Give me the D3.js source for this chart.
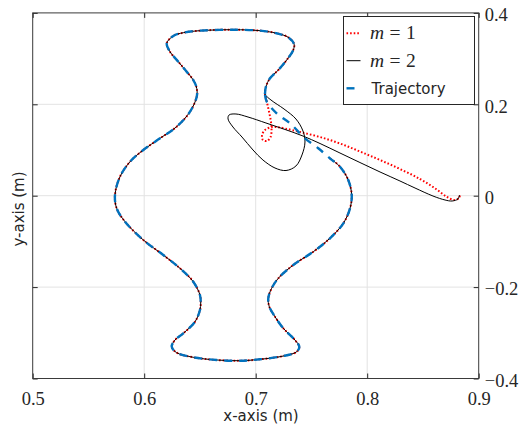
<!DOCTYPE html>
<html lang="en">
<head>
<meta charset="UTF-8">
<title>Trajectory tracking</title>
<script src="https://d3js.org/d3.v7.min.js"></script>
<style>
    body { margin: 0; background: #fff; }
    .grid line { stroke: #e3e3e3; stroke-width: 1; }
    .axis-title { font-family: "DejaVu Sans", sans-serif; font-size: 15px; fill: #262626; }
</style>
</head>
<body>
<svg id="chart" width="523" height="429"></svg>
<script>
    // tick values
    const xTicks = [0.5, 0.6, 0.7, 0.8, 0.9];
    const yTicks = [-0.4, -0.2, 0, 0.2, 0.4];

    // vase shape, from right neck going over the top and round to the right shoulder
    const vaseX = [0.7083, 0.7092, 0.7128, 0.7203, 0.7278, 0.7337, 0.7344, 0.7292, 0.7188, 0.7039,
                   0.6799, 0.6500, 0.6351, 0.6261, 0.6202, 0.6231, 0.6306, 0.6381, 0.6440, 0.6471,
                   0.6471, 0.6411, 0.6291, 0.6142, 0.5992, 0.5873, 0.5783, 0.5738, 0.5753, 0.5828,
                   0.5992, 0.6171, 0.6321, 0.6440, 0.6500, 0.6507, 0.6500, 0.6456, 0.6351, 0.6276,
                   0.6247, 0.6291, 0.6440, 0.6650, 0.6859, 0.7039, 0.7248, 0.7368, 0.7391, 0.7352,
                   0.7248, 0.7173, 0.7122, 0.7113, 0.7143, 0.7203, 0.7337, 0.7517, 0.7666, 0.7786,
                   0.7846, 0.7861, 0.7830, 0.7756, 0.7666];
    const vaseY = [0.2225, 0.2385, 0.2569, 0.2751, 0.2969, 0.3188, 0.3319, 0.3466, 0.3554, 0.3611,
                   0.3632, 0.3611, 0.3567, 0.3495, 0.3335, 0.3151, 0.2932, 0.2713, 0.2532, 0.2350,
                   0.2166, 0.1838, 0.1510, 0.1256, 0.1000, 0.0744, 0.0416, 0.0015, -0.0276, -0.0569,
                   -0.0969, -0.1298, -0.1589, -0.1882, -0.2173, -0.2348, -0.2501, -0.2757, -0.3011, -0.3158,
                   -0.3304, -0.3435, -0.3536, -0.3595, -0.3611, -0.3580, -0.3508, -0.3414, -0.3304, -0.3158,
                   -0.2902, -0.2648, -0.2429, -0.2245, -0.2026, -0.1807, -0.1516, -0.1225, -0.0932, -0.0604,
                   -0.0276, 0.0015, 0.0344, 0.0635, 0.0818];

    // straight piece that closes the reference trajectory
    const closeX = [0.7561, 0.7442, 0.7308, 0.7188, 0.7099, 0.7083];
    const closeY = [0.1037, 0.1256, 0.1584, 0.1803, 0.2057, 0.2225];

    // m = 1 transient, from the start point to the neck
    const m1X = [0.8832, 0.8819, 0.8779, 0.8716, 0.8617, 0.8474, 0.8294, 0.8115, 0.7935, 0.7756,
                 0.7577, 0.7397, 0.7263, 0.7182, 0.7128, 0.7083, 0.7057, 0.7065, 0.7101, 0.7133,
                 0.7142, 0.7137, 0.7124, 0.7106, 0.7092];
    const m1Y = [0.0004, -0.0061, -0.0094, -0.0028, 0.0147, 0.0365, 0.0584, 0.0781, 0.0967, 0.1142,
                 0.1284, 0.1394, 0.1470, 0.1503, 0.1492, 0.1438, 0.1328, 0.1219, 0.1197, 0.1284,
                 0.1438, 0.1613, 0.1788, 0.1985, 0.2138];

    // m = 2 transient
    const m2X = [0.8828, 0.8814, 0.8761, 0.8698, 0.8590, 0.8429, 0.8294, 0.8115, 0.7935, 0.7756,
                 0.7577, 0.7424, 0.7263, 0.7092, 0.6931, 0.6823, 0.6761, 0.6752, 0.6796, 0.6877,
                 0.6976, 0.7065, 0.7173, 0.7272, 0.7361, 0.7415, 0.7442, 0.7424, 0.7361, 0.7254,
                 0.7137];
    const m2Y = [0.0015, -0.0072, -0.0116, -0.0094, -0.0007, 0.0168, 0.0322, 0.0519, 0.0726, 0.0934,
                 0.1142, 0.1306, 0.1449, 0.1591, 0.1722, 0.1788, 0.1766, 0.1678, 0.1503, 0.1284,
                 0.1000, 0.0781, 0.0606, 0.0551, 0.0650, 0.0891, 0.1175, 0.1416, 0.1678, 0.1897,
                 0.2094];

    const zip = (xs, ys) => xs.map((v, i) => [v, ys[i]]);
    const vase = zip(vaseX, vaseY);
    const trajectory = vase.concat(zip(closeX, closeY));
    const series1 = zip(m1X, m1Y).concat(vase);
    const series2 = zip(m2X, m2Y).concat(vase);

    const svg = d3.select("#chart");
    const plotL = 32.7, plotR = 478.7, plotT = 12.9, plotB = 378.5;

    const x = d3.scaleLinear().domain([0.5, 0.9]).range([plotL, plotR]);
    const y = d3.scaleLinear().domain([-0.4, 0.4]).range([plotB, plotT]);

    const fmt = d => d === 0 ? "0" : d3.format(".1f")(d).replace("-", "\u2212");

    // grid
    const grid = svg.append("g").attr("class", "grid");
    grid.selectAll(".gx").data(xTicks.slice(1, -1)).join("line").attr("class", "gx")
        .attr("x1", d => x(d)).attr("x2", d => x(d)).attr("y1", plotT).attr("y2", plotB);
    grid.selectAll(".gy").data(yTicks.slice(1, -1)).join("line").attr("class", "gy")
        .attr("y1", d => y(d)).attr("y2", d => y(d)).attr("x1", plotL).attr("x2", plotR);

    // axes with inward ticks
    const xAxis = svg.append("g").attr("transform", `translate(0,${plotB})`)
        .call(d3.axisBottom(x).tickValues(xTicks).tickFormat(fmt).tickSizeInner(-5).tickSizeOuter(0).tickPadding(13.5));
    svg.append("g").attr("transform", `translate(0,${plotT})`)
        .call(d3.axisTop(x).tickValues(xTicks).tickFormat("").tickSizeInner(-5).tickSizeOuter(0));
    const yAxis = svg.append("g").attr("transform", `translate(${plotR},0)`)
        .call(d3.axisRight(y).tickValues(yTicks).tickFormat(fmt).tickSizeInner(-5).tickSizeOuter(0).tickPadding(6));
    svg.append("g").attr("transform", `translate(${plotL},0)`)
        .call(d3.axisLeft(y).tickValues(yTicks).tickFormat("").tickSizeInner(-5).tickSizeOuter(0));
    svg.selectAll(".domain").remove();
    svg.selectAll(".tick line").attr("stroke", "#262626");
    svg.selectAll(".tick text")
        .attr("font-family", "Liberation Serif")
        .attr("font-size", 18.5)
        .attr("fill", "#262626");
    xAxis.attr("font-family", null).attr("font-size", null);
    yAxis.attr("font-family", null).attr("font-size", null);
    xAxis.selectAll(".tick text").attr("dy", "0.68em");
    yAxis.selectAll(".tick text").attr("dy", "0.42em");

    svg.append("rect")
        .attr("x", plotL).attr("y", plotT)
        .attr("width", plotR - plotL).attr("height", plotB - plotT)
        .attr("fill", "none").attr("stroke", "#3a3a3a").attr("stroke-width", 1);

    // lines
    const line = d3.line()
        .x(d => x(d[0])).y(d => y(d[1]))
        .curve(d3.curveCatmullRom.alpha(0.5));

    svg.append("path").datum(series1)
        .attr("d", line).attr("fill", "none")
        .attr("stroke", "#ff0000").attr("stroke-width", 2).attr("stroke-dasharray", "1.6,2");
    svg.append("path").datum(series2)
        .attr("d", line).attr("fill", "none")
        .attr("stroke", "#000").attr("stroke-width", 1);
    svg.append("path").datum(trajectory)
        .attr("d", line).attr("fill", "none")
        .attr("stroke", "#0072bd").attr("stroke-width", 2.4).attr("stroke-dasharray", "8,7");

    // axis titles
    svg.append("text").attr("class", "axis-title")
        .attr("x", 261).attr("y", 421).attr("text-anchor", "middle")
        .text("x-axis (m)");
    svg.append("text").attr("class", "axis-title")
        .attr("transform", "translate(24,209) rotate(-90)").attr("text-anchor", "middle")
        .text("y-axis (m)");

    // legend
    const legend = svg.append("g");
    legend.append("rect")
        .attr("x", 343.5).attr("y", 16.5).attr("width", 131).attr("height", 88)
        .attr("fill", "#fff").attr("stroke", "#262626").attr("stroke-width", 1);
    const items = [
        {label: "1", color: "#ff0000", width: 2, dash: "1.6,2", y: 33.3},
        {label: "2", color: "#000", width: 1, dash: null, y: 60.7},
        {label: null, color: "#0072bd", width: 2.4, dash: "8,7", y: 88.3}
    ];
    items.forEach(it => {
        legend.append("line")
            .attr("x1", 346.5).attr("x2", 360.5).attr("y1", it.y).attr("y2", it.y)
            .attr("stroke", it.color).attr("stroke-width", it.width)
            .attr("stroke-dasharray", it.dash);
        const t = legend.append("text").attr("x", 370).attr("y", it.y + 6).attr("fill", "#262626");
        if (it.label) {
            t.attr("font-family", "Liberation Serif").attr("font-size", 19.5);
            t.append("tspan").attr("font-style", "italic").text("m");
            t.append("tspan").attr("dx", 5.5).text("=");
            t.append("tspan").attr("dx", 5.5).text(it.label);
        } else {
            t.attr("font-family", "DejaVu Sans").attr("font-size", 15).attr("x", 371.5)
                .text("Trajectory");
        }
    });
</script>
</body>
</html>
